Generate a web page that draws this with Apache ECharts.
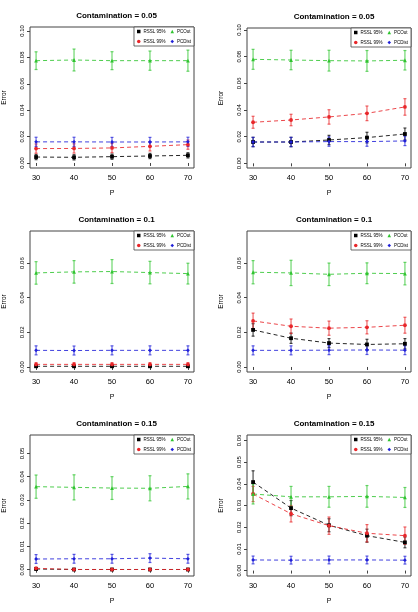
<!DOCTYPE html>
<html>
<head>
<meta charset="utf-8">
<script src="https://cdn.jsdelivr.net/npm/echarts@6.0.0/dist/echarts.min.js"></script>
<style>
html,body{margin:0;padding:0;background:#fff}
#chart{width:418px;height:612px}
</style>
</head>
<body>
<div id="chart"></div>
<script>
// x values (P)
var pVals = [30, 40, 50, 60, 70]

// panel titles
var titles = ['Contamination = 0.05', 'Contamination = 0.05', 'Contamination = 0.1',
              'Contamination = 0.1', 'Contamination = 0.15', 'Contamination = 0.15']

// y tick labels per panel
var yTicks1 = [0, 0.02, 0.04, 0.06, 0.08, 0.10]
var yTicks2 = [0, 0.02, 0.04, 0.06]
var yTicks3 = [0, 0.01, 0.02, 0.03, 0.04, 0.05]
var yTicks4 = [0, 0.01, 0.02, 0.03, 0.04, 0.05, 0.06]

// panel 1 (left, 0.05)
var a05_rssl95 = [0.0045, 0.0043, 0.0048, 0.0053, 0.0058]
var a05_rssl95_err = [0.002, 0.002, 0.002, 0.002, 0.002]
var a05_rssl99 = [0.0109, 0.011, 0.0114, 0.0126, 0.0139]
var a05_rssl99_err = [0.0035, 0.0035, 0.0035, 0.0035, 0.0035]
var a05_pcout = [0.0775, 0.078, 0.0775, 0.0775, 0.0775]
var a05_pcout_err = [0.0067, 0.0083, 0.0068, 0.0073, 0.008]
var a05_pcdist = [0.016, 0.016, 0.0159, 0.0159, 0.016]
var a05_pcdist_err = [0.0035, 0.0035, 0.0035, 0.0035, 0.0035]

// panel 2 (right, 0.05)
var b05_rssl95 = [0.016, 0.016, 0.0175, 0.0193, 0.022]
var b05_rssl95_err = [0.0035, 0.0035, 0.0035, 0.004, 0.0045]
var b05_rssl99 = [0.0308, 0.0325, 0.0348, 0.0375, 0.0423]
var b05_rssl99_err = [0.0045, 0.0043, 0.0054, 0.0055, 0.0062]
var b05_pcout = [0.078, 0.0775, 0.077, 0.0768, 0.0773]
var b05_pcout_err = [0.0075, 0.0073, 0.0078, 0.0078, 0.0073]
var b05_pcdist = [0.016, 0.016, 0.0163, 0.0163, 0.0168]
var b05_pcdist_err = [0.0035, 0.0035, 0.0035, 0.0035, 0.0035]

// panel 3 (left, 0.1)
var a10_rssl95 = [0.0004, 0.0004, 0.0004, 0.0004, 0.0004]
var a10_rssl95_err = [0.0006, 0.0006, 0.0006, 0.0006, 0.0006]
var a10_rssl99 = [0.0015, 0.0015, 0.0015, 0.0015, 0.0015]
var a10_rssl99_err = [0.001, 0.001, 0.001, 0.001, 0.001]
var a10_pcout = [0.0543, 0.0549, 0.0551, 0.0545, 0.0539]
var a10_pcout_err = [0.0065, 0.0065, 0.0069, 0.0065, 0.006]
var a10_pcdist = [0.0096, 0.0095, 0.0096, 0.0096, 0.0096]
var a10_pcdist_err = [0.0026, 0.0026, 0.0026, 0.0026, 0.0026]

// panel 4 (right, 0.1)
var b10_rssl95 = [0.0214, 0.0166, 0.0138, 0.013, 0.0134]
var b10_rssl95_err = [0.0036, 0.003, 0.0026, 0.003, 0.003]
var b10_rssl99 = [0.0266, 0.0235, 0.0224, 0.0229, 0.0241]
var b10_rssl99_err = [0.0045, 0.0042, 0.0041, 0.0038, 0.0046]
var b10_pcout = [0.0547, 0.0543, 0.0535, 0.0541, 0.0539]
var b10_pcout_err = [0.0067, 0.0073, 0.0065, 0.006, 0.0065]
var b10_pcdist = [0.0096, 0.0096, 0.0097, 0.0098, 0.0097]
var b10_pcdist_err = [0.0026, 0.0026, 0.0026, 0.0026, 0.0026]

// panel 5 (left, 0.15)
var a15_rssl95 = [0.0003, 0.0001, 0.0001, 0.0001, 0.0001]
var a15_rssl95_err = [0.0002, 0.0002, 0.0002, 0.0002, 0.0002]
var a15_rssl99 = [0.0006, 0.0001, 0.0001, 0.0001, 0.0001]
var a15_rssl99_err = [0.0005, 0.0002, 0.0002, 0.0002, 0.0002]
var a15_pcout = [0.0357, 0.0354, 0.0351, 0.035, 0.0358]
var a15_pcout_err = [0.005, 0.0054, 0.0049, 0.0054, 0.0054]
var a15_pcdist = [0.0046, 0.0047, 0.0047, 0.005, 0.0047]
var a15_pcdist_err = [0.0019, 0.0019, 0.0019, 0.0019, 0.0019]

// panel 6 (right, 0.15)
var b15_rssl95 = [0.0408, 0.0288, 0.0209, 0.0161, 0.013]
var b15_rssl95_err = [0.0052, 0.0035, 0.003, 0.003, 0.0025]
var b15_rssl99 = [0.0353, 0.0262, 0.0207, 0.0172, 0.0161]
var b15_rssl99_err = [0.0035, 0.0038, 0.004, 0.004, 0.004]
var b15_pcout = [0.0353, 0.034, 0.034, 0.0342, 0.0337]
var b15_pcout_err = [0.0046, 0.0048, 0.0048, 0.005, 0.0046]
var b15_pcdist = [0.0049, 0.0048, 0.0049, 0.0049, 0.0048]
var b15_pcdist_err = [0.0018, 0.0018, 0.0018, 0.0018, 0.0018]

var seriesNames = ['RSSL 95%', 'RSSL 99%', 'PCOut', 'PCDist']
var colors = ['#000000', '#e8262a', '#2fc42f', '#1f1fd8']
var symbols = ['rect', 'circle', 'triangle', 'diamond']

var panels = [
    {means: [a05_rssl95, a05_rssl99, a05_pcout, a05_pcdist], errs: [a05_rssl95_err, a05_rssl99_err, a05_pcout_err, a05_pcdist_err], ticks: yTicks1, min: -0.0038, max: 0.103},
    {means: [b05_rssl95, b05_rssl99, b05_pcout, b05_pcdist], errs: [b05_rssl95_err, b05_rssl99_err, b05_pcout_err, b05_pcdist_err], ticks: yTicks1, min: -0.0035, max: 0.1015},
    {means: [a10_rssl95, a10_rssl99, a10_pcout, a10_pcdist], errs: [a10_rssl95_err, a10_rssl99_err, a10_pcout_err, a10_pcdist_err], ticks: yTicks2, min: -0.0029, max: 0.0785},
    {means: [b10_rssl95, b10_rssl99, b10_pcout, b10_pcdist], errs: [b10_rssl95_err, b10_rssl99_err, b10_pcout_err, b10_pcdist_err], ticks: yTicks2, min: -0.0029, max: 0.0785},
    {means: [a15_rssl95, a15_rssl99, a15_pcout, a15_pcdist], errs: [a15_rssl95_err, a15_rssl99_err, a15_pcout_err, a15_pcdist_err], ticks: yTicks3, min: -0.0027, max: 0.0579},
    {means: [b15_rssl95, b15_rssl99, b15_pcout, b15_pcdist], errs: [b15_rssl95_err, b15_rssl99_err, b15_pcout_err, b15_pcdist_err], ticks: yTicks4, min: -0.0025, max: 0.0625}
]

// plot boxes: left, top, width, height
var boxes = [[29, 27, 165, 141], [247, 28, 164, 140], [29, 231, 165, 141],
             [247, 231, 164, 141], [29, 435, 165, 141], [247, 435, 164, 141]]

var font = 'Liberation Sans, Arial, sans-serif'

function errRender(color) {
    return function (params, api) {
        var x = api.value(0)
        var top = api.coord([x, api.value(2)])
        var bot = api.coord([x, api.value(1)])
        var cap = 1.5
        var st = {stroke: color, lineWidth: 1.2, opacity: 0.7}
        return {
            type: 'group',
            children: [
                {type: 'line', shape: {x1: top[0], y1: top[1], x2: bot[0], y2: bot[1]}, style: st},
                {type: 'line', shape: {x1: top[0] - cap, y1: top[1], x2: top[0] + cap, y2: top[1]}, style: st},
                {type: 'line', shape: {x1: bot[0] - cap, y1: bot[1], x2: bot[0] + cap, y2: bot[1]}, style: st}
            ]
        }
    }
}

var grid = [], xAxis = [], yAxis = [], series = [], title = [], legend = []

panels.forEach(function (pn, i) {
    var b = boxes[i]
    grid.push({left: b[0], top: b[1], width: b[2], height: b[3], show: true,
        borderColor: '#444', borderWidth: 1, backgroundColor: '#fff'})
    title.push({text: titles[i], left: b[0] + b[2] / 2, top: b[1] - 20, textAlign: 'center',
        textStyle: {fontFamily: font, fontSize: 8, fontWeight: 'bold', color: '#000'}})
    xAxis.push({type: 'value', gridIndex: i, min: 28.4, max: 71.6,
        name: 'P', nameLocation: 'middle', nameGap: 22,
        nameTextStyle: {fontFamily: font, fontSize: 7, color: '#000'},
        axisLine: {show: false}, splitLine: {show: false},
        axisTick: {show: true, inside: false, length: 3, customValues: pVals, lineStyle: {color: '#444'}},
        axisLabel: {customValues: pVals, margin: 6, fontFamily: font, fontSize: 7.5, color: '#000'}})
    yAxis.push({type: 'value', gridIndex: i, min: pn.min, max: pn.max,
        name: 'Error', nameLocation: 'middle', nameGap: 22, nameRotate: 90,
        nameTextStyle: {fontFamily: font, fontSize: 6.5, color: '#000'},
        axisLine: {show: false}, splitLine: {show: false},
        axisTick: {show: true, inside: false, length: 3, customValues: pn.ticks, lineStyle: {color: '#444'}},
        axisLabel: {customValues: pn.ticks, rotate: 90, margin: 5, fontFamily: font, fontSize: 6, color: '#000',
            formatter: function (v) { return v.toFixed(2) }}})
    legend.push({
        right: 418 - (b[0] + b[2]), top: b[1], width: 58,
        orient: 'horizontal', itemWidth: 3.5, itemHeight: 3.5, itemGap: 5,
        padding: [2, 3], borderColor: '#444', borderWidth: 0.8, backgroundColor: '#fff',
        textStyle: {fontFamily: font, fontSize: 4.5, color: '#000', padding: [0, 0, 0, -2]},
        data: [0, 2, 1, 3].map(function (k) {
            return {name: seriesNames[k], icon: symbols[k], itemStyle: {color: colors[k]}}
        })
    })
    for (var k = 0; k < 4; k++) {
        var line = [], bars = []
        for (var j = 0; j < pVals.length; j++) {
            line.push([pVals[j], pn.means[k][j]])
            bars.push([pVals[j], pn.means[k][j] - pn.errs[k][j], pn.means[k][j] + pn.errs[k][j]])
        }
        series.push({type: 'custom', name: seriesNames[k], xAxisIndex: i, yAxisIndex: i,
            renderItem: errRender(colors[k]), encode: {x: 0, y: [1, 2]}, data: bars, silent: true, z: 2})
        series.push({type: 'line', name: seriesNames[k], xAxisIndex: i, yAxisIndex: i,
            data: line, symbol: symbols[k], symbolSize: 3.8, showSymbol: true,
            itemStyle: {color: colors[k]},
            lineStyle: {color: colors[k], width: 1, type: [4, 3], opacity: 0.85}, z: 3})
    }
})

var chart = echarts.init(document.getElementById('chart'))
chart.setOption({
    animation: false,
    backgroundColor: '#fff',
    title: title,
    legend: legend,
    grid: grid,
    xAxis: xAxis,
    yAxis: yAxis,
    series: series
})
</script>
</body>
</html>
